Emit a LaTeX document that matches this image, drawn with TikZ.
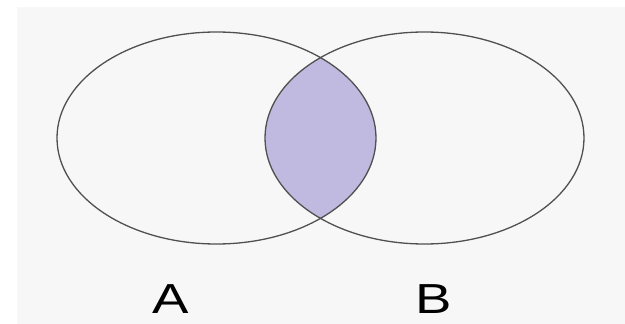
\documentclass[tikz,border=0pt]{standalone}
\usepackage{fontspec}
\setmainfont{Liberation Sans}
\usepackage{tikz}

\begin{document}
\begin{tikzpicture}[x=1pt, y=-1pt]

% Colori
\definecolor{colSfondo}{HTML}{F7F7F7}
\definecolor{colInters}{HTML}{C0B9E0}
\definecolor{lineGray}{HTML}{505050}

% Semiassi delle ellissi
\def\rx{159.5}
\def\ry{106}

% Sfondo
\useasboundingbox (0,0) rectangle (625,324);
\fill[white] (0,0) rectangle (625,324);
\fill[colSfondo] (17,7) rectangle (625,324);

% Intersezione A e B
\begin{scope}
\clip (216.5,138) ellipse [x radius=\rx, y radius=\ry];
\fill[colInters] (424.5,138) ellipse [x radius=\rx, y radius=\ry];
\end{scope}

% Insiemi
\draw[lineGray, line width=1.3pt] (216.5,138) ellipse [x radius=\rx, y radius=\ry];
\draw[lineGray, line width=1.3pt] (424.5,138) ellipse [x radius=\rx, y radius=\ry];

% Etichette
\node[anchor=base, font=\fontsize{42}{42}\selectfont, xscale=1.3, inner sep=0pt] (labA) at (171,313) {A};
\node[anchor=base, font=\fontsize{42}{42}\selectfont, xscale=1.3, inner sep=0pt] (labB) at (434,313) {B};

\end{tikzpicture}
\end{document}
